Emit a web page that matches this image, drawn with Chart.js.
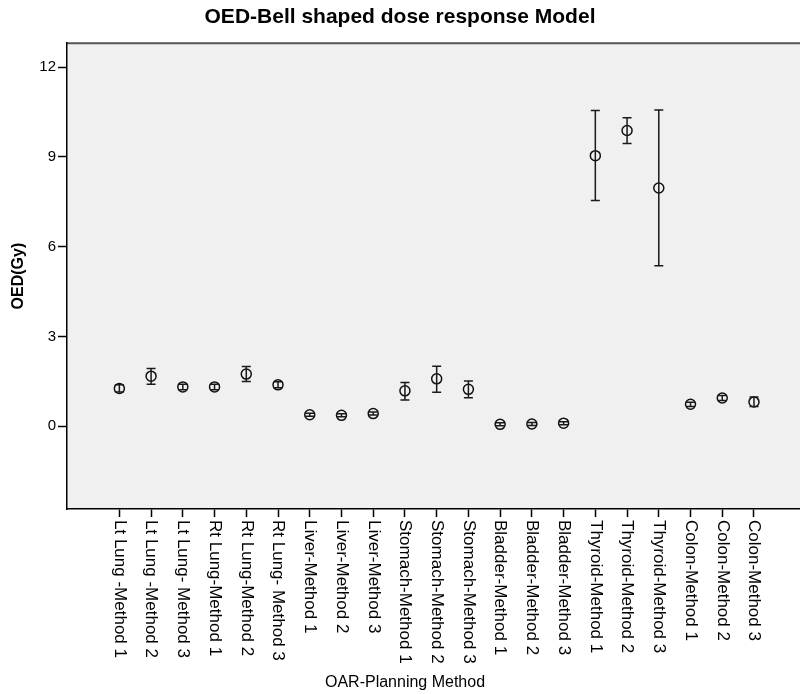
<!DOCTYPE html>
<html>
<head>
<meta charset="utf-8">
<title>OED-Bell shaped dose response Model</title>
<script src="https://cdn.jsdelivr.net/npm/chart.js@4"></script>
<style>
  body { margin: 0; background: #fff; }
  #wrap { width: 800px; height: 694px; }
</style>
</head>
<body>
<div id="wrap"><canvas id="chartOED" width="800" height="694"></canvas></div>
<script>
var categories = ['Lt Lung -Method 1', 'Lt Lung -Method 2', 'Lt Lung- Method 3',
    'Rt Lung-Method 1', 'Rt Lung-Method 2', 'Rt Lung- Method 3',
    'Liver-Method 1', 'Liver-Method 2', 'Liver-Method 3',
    'Stomach-Method 1', 'Stomach-Method 2', 'Stomach-Method 3',
    'Bladder-Method 1', 'Bladder-Method 2', 'Bladder-Method 3',
    'Thyroid-Method 1', 'Thyroid-Method 2', 'Thyroid-Method 3',
    'Colon-Method 1', 'Colon-Method 2', 'Colon-Method 3'];

// mean OED and the ends of the error bars (Gy)
var oedMean = [1.26, 1.67, 1.31, 1.31, 1.74, 1.38, 0.38, 0.36, 0.42, 1.18, 1.58, 1.23,
    0.06, 0.07, 0.10, 9.04, 9.88, 7.96, 0.73, 0.94, 0.81];
var oedLower = [1.14, 1.40, 1.22, 1.22, 1.49, 1.28, 0.33, 0.31, 0.37, 0.87, 1.13, 0.95,
    0.01, 0.02, 0.05, 7.54, 9.45, 5.36, 0.66, 0.86, 0.66];
var oedUpper = [1.38, 1.93, 1.40, 1.40, 1.99, 1.48, 0.43, 0.41, 0.47, 1.46, 2.00, 1.51,
    0.11, 0.12, 0.15, 10.55, 10.31, 10.57, 0.80, 1.02, 0.97];

var yTicks = [0, 3, 6, 9, 12];

const fontFamily = "'Liberation Sans', Arial, sans-serif";

// grey plot box with top border
const plotBox = {
    id: 'plotBox',
    beforeDraw(chart) {
        const { ctx, chartArea: a } = chart;
        ctx.save();
        ctx.fillStyle = '#f0f0f0';
        ctx.fillRect(a.left, a.top, a.right - a.left, a.bottom - a.top);
        ctx.strokeStyle = '#555';
        ctx.lineWidth = 2;
        ctx.beginPath();
        ctx.moveTo(a.left, a.top);
        ctx.lineTo(a.right, a.top);
        ctx.stroke();
        ctx.restore();
    }
};

// vertical error bars with caps
const errorBars = {
    id: 'errorBars',
    afterDatasetsDraw(chart) {
        const { ctx, scales: { x, y } } = chart;
        ctx.save();
        ctx.strokeStyle = '#1a1a1a';
        ctx.lineWidth = 1.5;
        oedMean.forEach((m, i) => {
            const px = x.getPixelForValue(i);
            const top = y.getPixelForValue(oedUpper[i]);
            const bot = y.getPixelForValue(oedLower[i]);
            ctx.beginPath();
            ctx.moveTo(px, top);
            ctx.lineTo(px, bot);
            ctx.moveTo(px - 4.5, top);
            ctx.lineTo(px + 4.5, top);
            ctx.moveTo(px - 4.5, bot);
            ctx.lineTo(px + 4.5, bot);
            ctx.stroke();
        });
        ctx.restore();
    }
};

// category labels, turned to read top to bottom, and the axis title
const xLabels = {
    id: 'xLabels',
    afterDraw(chart) {
        const { ctx, scales: { x } } = chart;
        ctx.save();
        ctx.fillStyle = '#000';
        ctx.font = '17px ' + fontFamily;
        ctx.textAlign = 'left';
        ctx.textBaseline = 'middle';
        categories.forEach((c, i) => {
            ctx.save();
            ctx.translate(x.getPixelForValue(i), chart.chartArea.bottom + 11);
            ctx.rotate(Math.PI / 2);
            ctx.fillText(c, 0, 0);
            ctx.restore();
        });
        ctx.font = '16px ' + fontFamily;
        ctx.textAlign = 'center';
        ctx.fillText('OAR-Planning Method', 405, chart.height - 11);
        ctx.restore();
    }
};

var ctx = document.getElementById('chartOED').getContext('2d');

var chartOED = new Chart(ctx, {
    type: 'scatter',
    data: {
        datasets: [{
            data: oedMean.map((v, i) => ({ x: i, y: v })),
            pointStyle: 'circle',
            pointRadius: 5,
            pointHoverRadius: 5,
            pointBorderWidth: 1.5,
            borderColor: '#111',
            backgroundColor: 'rgba(0,0,0,0)'
        }]
    },
    options: {
        responsive: false,
        animation: false,
        layout: { autoPadding: false, padding: 0 },
        plugins: {
            legend: { display: false },
            tooltip: { enabled: false },
            title: {
                display: true,
                text: 'OED-Bell shaped dose response Model',
                color: '#000',
                font: { family: fontFamily, size: 21, weight: 'bold' },
                padding: { top: 5, bottom: 13 }
            }
        },
        scales: {
            x: {
                type: 'linear',
                min: -1.65,
                max: 21.45,
                afterBuildTicks: scale => {
                    scale.ticks = categories.map((c, i) => ({ value: i }));
                },
                afterFit: scale => { scale.height = 185; },
                ticks: { display: false },
                grid: { drawOnChartArea: false, drawTicks: true, tickLength: 8, tickColor: '#000', tickWidth: 1.5 },
                border: { display: true, color: '#000', width: 1.5 }
            },
            y: {
                min: -2.77,
                max: 12.8,
                afterBuildTicks: scale => {
                    scale.ticks = yTicks.map(v => ({ value: v }));
                },
                afterFit: scale => { scale.width = 67; },
                ticks: {
                    color: '#000',
                    padding: 2,
                    font: { family: fontFamily, size: 15 }
                },
                grid: { drawOnChartArea: false, drawTicks: true, tickLength: 9, tickColor: '#000', tickWidth: 1.5 },
                border: { display: true, color: '#000', width: 1.5 },
                title: {
                    display: true,
                    text: 'OED(Gy)',
                    color: '#000',
                    font: { family: fontFamily, size: 16, weight: 'bold' },
                    padding: { top: 9, bottom: 0 }
                }
            }
        }
    },
    plugins: [plotBox, errorBars, xLabels]
});
</script>
</body>
</html>
